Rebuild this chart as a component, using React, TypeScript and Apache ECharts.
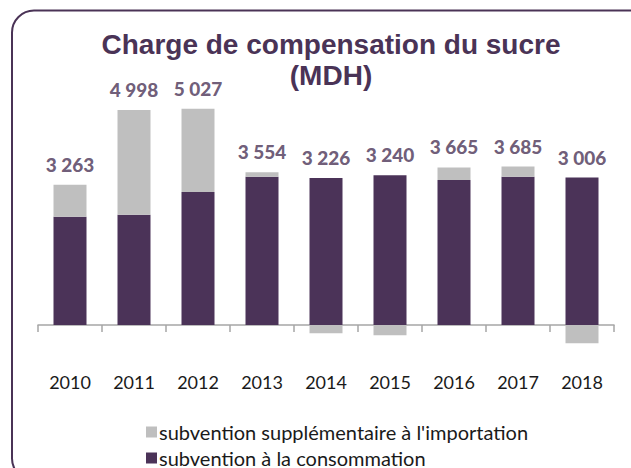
import React, { useEffect, useRef } from "react";
import * as echarts from "echarts";

const years = ["2010", "2011", "2012", "2013", "2014", "2015", "2016", "2017", "2018"];
const consumption = [2518, 2565, 3092, 3448, 3420, 3480, 3371, 3448, 3430];
const importSupp = [745, 2433, 1935, 106, -194, -240, 294, 237, -424];
const totals = [3263, 4998, 5027, 3554, 3226, 3240, 3665, 3685, 3006];

const nameImport = "subvention supplémentaire à l'importation";
const nameCons = "subvention à la consommation";
const purple = "#4b3358";
const grey = "#bfbfbf";
const textPurple = "#4a3356";

function fmt(v: number): string {
  const s = String(v);
  return s.length > 3 ? s.slice(0, s.length - 3) + " " + s.slice(s.length - 3) : s;
}

export default function App() {
  const ref = useRef<HTMLDivElement>(null);
  useEffect(() => {
    if (!ref.current) return;
    const chart = echarts.init(ref.current, undefined, { renderer: "svg" });
    const tops = consumption.map((c, i) => Math.max(c, c + importSupp[i]));
    const legendText = {
      fontFamily: "Lato",
      fontSize: 20,
      lineHeight: 20,
      color: "#1a1a1a",
      padding: [0, 0, 0, -3],
    };
    chart.setOption({
      animation: false,
      backgroundColor: "#ffffff",
      grid: { left: 38, right: 17, top: 67, bottom: 100, containLabel: false },
      graphic: [
        {
          type: "rect",
          shape: { x: 12, y: 10.5, width: 640, height: 470, r: 22 },
          style: { fill: "none", stroke: textPurple, lineWidth: 2 },
          silent: true,
        },
        {
          type: "text",
          x: 331,
          y: 29,
          style: {
            text: "Charge de compensation du sucre\n(MDH)",
            textAlign: "center",
            textVerticalAlign: "top",
            font: 'bold 28px "Liberation Sans", Arial, sans-serif',
            lineHeight: 31,
            fill: textPurple,
          },
        },
      ],
      legend: [
        {
          left: 146,
          top: 422,
          padding: 0,
          itemWidth: 11,
          itemHeight: 11,
          icon: "rect",
          data: [nameImport],
          textStyle: legendText,
        },
        {
          left: 146,
          top: 448,
          padding: 0,
          itemWidth: 11,
          itemHeight: 11,
          icon: "rect",
          data: [nameCons],
          textStyle: legendText,
        },
      ],
      xAxis: {
        type: "category",
        data: years,
        axisLine: { onZero: true, lineStyle: { color: "#a6a6a6", width: 1.5 } },
        axisTick: { show: true, length: 7, lineStyle: { color: "#a6a6a6", width: 1.5 } },
        axisLabel: { margin: 5, fontFamily: "Lato", fontSize: 18, color: "#1a1a1a" },
      },
      yAxis: {
        type: "value",
        min: -1000,
        max: 6000,
        show: false,
        splitLine: { show: false },
      },
      series: [
        {
          name: nameCons,
          type: "bar",
          stack: "a",
          barWidth: 33,
          data: consumption,
          itemStyle: { color: purple },
        },
        {
          name: nameImport,
          type: "bar",
          stack: "a",
          barWidth: 33,
          data: importSupp,
          itemStyle: { color: grey },
        },
        {
          name: "total",
          type: "scatter",
          symbolSize: 0,
          data: tops,
          silent: true,
          label: {
            show: true,
            position: "top",
            distance: 11,
            formatter: (p: any) => fmt(totals[p.dataIndex]),
            fontFamily: "Lato",
            fontWeight: 900,
            fontSize: 19,
            color: textPurple,
          },
        },
      ],
    });
    return () => chart.dispose();
  }, []);
  return (
    <div
      ref={ref}
      style={{ position: "absolute", left: 0, top: 0, width: 631, height: 468 }}
    />
  );
}
